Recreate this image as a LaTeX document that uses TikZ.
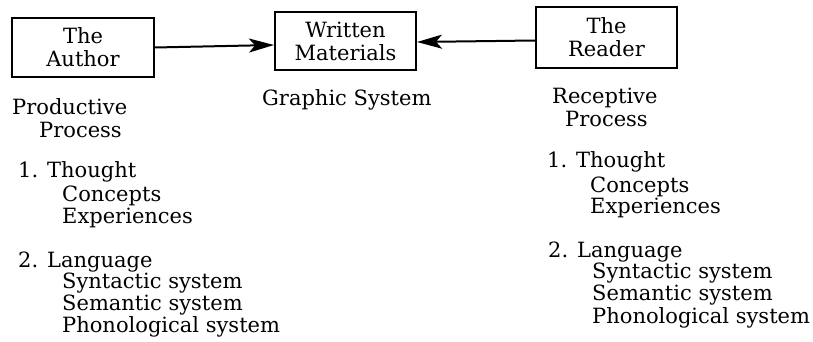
\documentclass[tikz,border=0pt]{standalone}
\usepackage{fontspec}
\setmainfont{DejaVu Serif}
\usetikzlibrary{arrows.meta,calc}
\begin{document}
\begin{tikzpicture}[x=1pt,y=-1pt,
  every node/.style={font=\fontsize{21}{23}\selectfont},
  box/.style={draw,line width=2pt,align=center,inner sep=0pt},
  txt/.style={anchor=base west,inner sep=0pt},
  arr/.style={line width=2pt,-{Stealth[length=25pt,width=14pt,inset=6pt]}}]
\useasboundingbox (0,0) rectangle (813,342);

% the three boxes
\node[box,minimum width=142pt,minimum height=59pt] (author) at (83,47.5) {The\\Author};
\node[box,minimum width=141pt,minimum height=58pt] (wm) at (345.5,41) {Written\\Materials};
\node[box,minimum width=141pt,minimum height=61pt] (reader) at (606.5,37.5) {The\\Reader};

% connectors into the written materials
\draw[arr] (author.east) -- ($(wm.west)+(0,4)$);
\draw[arr] ($(reader.west)+(0,3)$) -- ($(wm.east)+(0,1)$);

% centre caption
\node[txt] (graphic) at (262,106) {Graphic System};

% productive side
\node[txt] (prod1) at (12,114) {Productive};
\node[txt] (prod2) at (39,137) {Process};
\node[txt] (pthought) at (18,177) {1. Thought};
\node[txt] (pconc) at (62,201) {Concepts};
\node[txt] (pexp) at (62,223) {Experiences};
\node[txt] (plang) at (18,267) {2. Language};
\node[txt] (psyn) at (62,288) {Syntactic system};
\node[txt] (psem) at (62,310) {Semantic system};
\node[txt] (ppho) at (62,332) {Phonological system};

% receptive side
\node[txt] (rec1) at (552,104) {Receptive};
\node[txt] (rec2) at (565,126) {Process};
\node[txt] (rthought) at (547,167) {1. Thought};
\node[txt] (rconc) at (590,192) {Concepts};
\node[txt] (rexp) at (590,213) {Experiences};
\node[txt] (rlang) at (548,257) {2. Language};
\node[txt] (rsyn) at (592,278) {Syntactic system};
\node[txt] (rsem) at (592,300) {Semantic system};
\node[txt] (rpho) at (592,323) {Phonological system};
\end{tikzpicture}
\end{document}
